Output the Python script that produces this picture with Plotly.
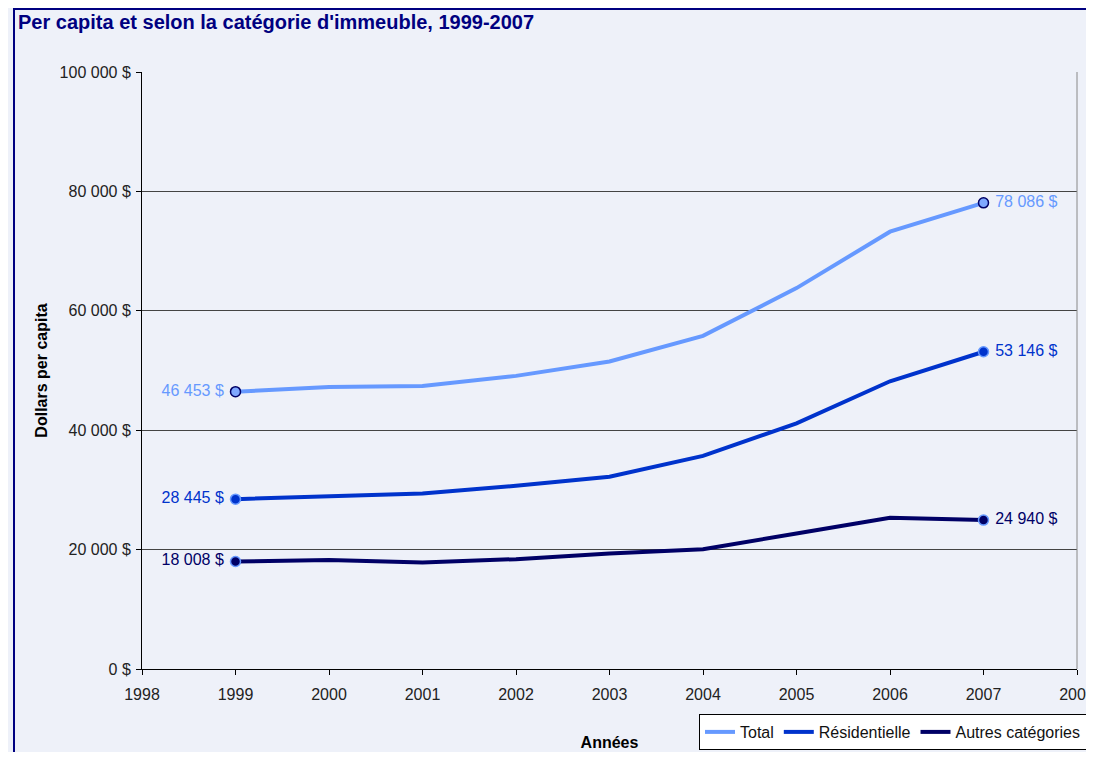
import plotly.graph_objects as go

# Data
years = [1999, 2000, 2001, 2002, 2003, 2004, 2005, 2006, 2007]
total = [46453, 47250, 47400, 49100, 51500, 55800, 63800, 73250, 78086]
residentielle = [28445, 29000, 29400, 30700, 32200, 35700, 41150, 48200, 53146]
autres = [18008, 18250, 17850, 18400, 19350, 20050, 22700, 25350, 24940]

y_ticks = [0, 20000, 40000, 60000, 80000, 100000]
x_ticks = list(range(1998, 2009))

# name, values, line colour, marker fill, marker outline, label colour
series = [
    ("Total", total, "#6699FF", "#7FA8FF", "#000066", "#6699FF"),
    ("Résidentielle", residentielle, "#0033CC", "#0033CC", "#6699FF", "#0033CC"),
    ("Autres catégories", autres, "#000066", "#000066", "#6699FF", "#000066"),
]

FONT = "Liberation Sans, Arial"

# page body has an 8px margin (left/top); keep the page from overflowing vertically
W, H = 1086, 744
L, T, R, B = 134, 64, 17, 83
PW, PH = W - L - R, H - T - B
PLOT_BOTTOM = H - B


def fmt_dollars(v):
    return f"{v:,.0f}".replace(",", " ") + " $"


fig = go.Figure()

for name, vals, color, mfill, mline, tcolor in series:
    fig.add_trace(go.Scatter(
        x=years, y=vals, mode='lines', name=name,
        line=dict(color=color, width=4),
        hoverinfo='skip'
    ))
    # first / last point markers with value labels
    ends_x = [years[0], years[-1]]
    ends_y = [vals[0], vals[-1]]
    fig.add_trace(go.Scatter(
        x=ends_x, y=ends_y, mode='markers+text',
        text=[fmt_dollars(ends_y[0]) + "\u00a0", "\u00a0" + fmt_dollars(ends_y[1])],
        textposition=['middle left', 'middle right'],
        textfont=dict(color=tcolor, size=16, family=FONT),
        marker=dict(size=10, color=mfill, line=dict(color=mline, width=1.5)),
        showlegend=False, hoverinfo='skip'
    ))

fig.update_layout(
    width=W, height=H,
    margin=dict(l=L, r=R, t=T, b=B, autoexpand=False),
    paper_bgcolor='#EEF1F9',
    plot_bgcolor='#EEF1F9',
    font=dict(family=FONT, size=16, color="#222222"),
    title=dict(
        text="<b>Per capita et selon la catégorie d'immeuble, 1999-2007</b>",
        x=10 / W, xanchor='left', xref='container',
        y=1 - 14 / H, yanchor='middle', yref='container',
        font=dict(size=20, color='#000080')
    ),
    showlegend=True,
    legend=dict(
        orientation='h', x=(1079 - L) / PW, xanchor='right',
        y=-(742 - PLOT_BOTTOM) / PH, yanchor='bottom',
        bgcolor='white', bordercolor='black', borderwidth=1,
        font=dict(size=16, color='#111111'),
        itemwidth=30, tracegroupgap=0
    ),
)

fig.update_xaxes(
    range=[1998, 2008], tickvals=x_ticks, ticktext=[str(t) for t in x_ticks],
    ticks='outside', ticklen=5, tickcolor='black', ticklabelstandoff=6,
    ticklabeloverflow='allow',
    showline=True, linecolor='black', linewidth=1,
    showgrid=False, zeroline=False,
    tickfont=dict(size=16),
    title=dict(text="<b>Années</b>", font=dict(size=16, color='black'), standoff=34)
)

fig.update_yaxes(
    range=[0, 100000], tickvals=y_ticks, ticktext=[fmt_dollars(t) for t in y_ticks],
    ticks='outside', ticklen=5, tickcolor='black', ticklabelstandoff=2,
    showline=True, linecolor='black', linewidth=1,
    showgrid=True, gridcolor='#444444', gridwidth=1,
    zeroline=False, tickfont=dict(size=16),
    title=dict(text="<b>Dollars per capita</b>", font=dict(size=16, color='black'), standoff=8)
)

# right edge of plot area
fig.add_shape(type='line', xref='paper', yref='paper', x0=1, x1=1, y0=0, y1=1,
              line=dict(color='#888888', width=1))

# chart border (top and left visible in picture)
fig.add_shape(type='rect', xref='paper', yref='paper',
              x0=(6 - L) / PW, x1=1.05, y0=-0.2, y1=1 + (T - 1) / PH,
              line=dict(color='#000080', width=2), layer='below')

fig.write_html("out.html")
